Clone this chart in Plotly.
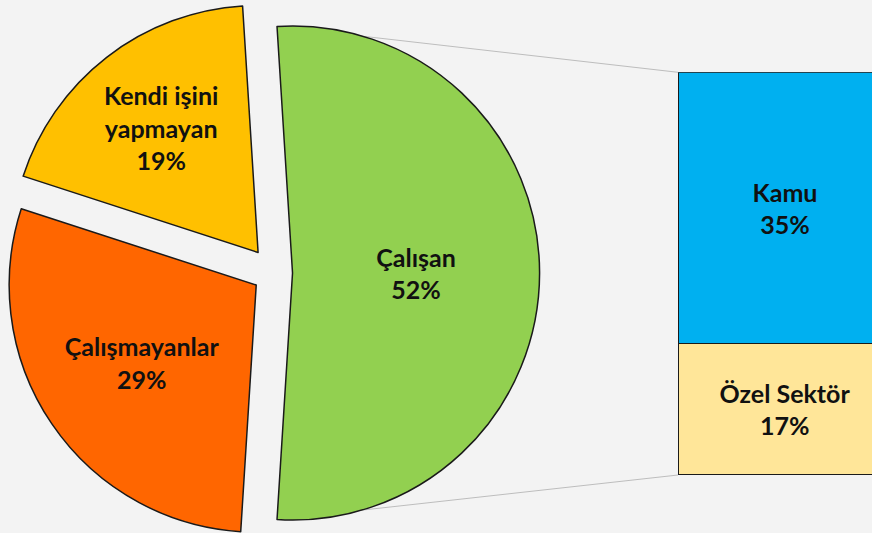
import math
import plotly.graph_objects as go

# ---- data ----
pie_labels = ["Çalışan", "Kendi işini<br>yapmayan", "Çalışmayanlar"]
pie_values = [52, 19, 29]
pie_colors = ["#92D050", "#FFC000", "#FF6600"]
pie_pull = [0.075, 0.105, 0.087]

bar_labels = ["Özel Sektör", "Kamu"]
bar_values = [17, 35]
bar_colors = ["#FFE699", "#00B0F0"]

W = 872
H = 546          # figure is a little taller than the 533px window; the bottom strip falls outside
BG = "#F3F3F3"
FONT = "Lato"
FS = 25

# ---- layout geometry ----
pie_dom_x = [0.0, 548 / W]
pie_dom_y = [0.0, 1.0]
bar_dom_x = [678 / W, 1.0]
bar_dom_y = [1 - 475 / H, 1 - 72.3 / H]
bar_px_width = 214.0  # pixel width of the full bar (it runs past the right edge)
vis_px = (bar_dom_x[1] - bar_dom_x[0]) * W
x_range = [-0.5, -0.5 + vis_px / bar_px_width]

total = sum(pie_values)
bar_total = sum(bar_values)
rotation = 90 - 360 * pie_values[0] / total / 2

fig = go.Figure()

fig.add_trace(go.Pie(
    labels=pie_labels,
    values=pie_values,
    sort=False,
    direction="counterclockwise",
    rotation=rotation,
    pull=pie_pull,
    marker=dict(colors=pie_colors, line=dict(color="#1a1a1a", width=1.5)),
    texttemplate="<b>%{label}<br>%{value}%</b>",
    textposition="inside",
    insidetextorientation="horizontal",
    textfont=dict(family=FONT, size=FS, color="#111"),
    domain=dict(x=pie_dom_x, y=pie_dom_y),
    showlegend=False,
    hoverinfo="label+value",
))

for lab, val, col in zip(bar_labels, bar_values, bar_colors):
    fig.add_trace(go.Bar(
        x=[0], y=[val], width=1,
        marker=dict(color=col, line=dict(color="#1a1a1a", width=1.5)),
        text=[f"<b>{lab}<br>{val}%</b>"],
        textposition="inside", insidetextanchor="middle", textangle=0,
        textfont=dict(family=FONT, size=FS, color="#111"),
        showlegend=False, name=lab,
        xaxis="x", yaxis="y",
    ))

# connector lines from the pulled "Çalışan" slice to the bar corners
r = min((pie_dom_x[1] - pie_dom_x[0]) * W, (pie_dom_y[1] - pie_dom_y[0]) * H) / (2 + 2 * max(pie_pull))
cx = W * (pie_dom_x[0] + pie_dom_x[1]) / 2
cy = H * (1 - (pie_dom_y[0] + pie_dom_y[1]) / 2)
half = math.radians(360 * pie_values[0] / total / 2)
gx = cx + pie_pull[0] * r
pts_top = (gx + r * math.cos(half), cy - r * math.sin(half))
pts_bot = (gx + r * math.cos(half), cy + r * math.sin(half))
for (px, py), yb in ((pts_top, bar_dom_y[1]), (pts_bot, bar_dom_y[0])):
    fig.add_shape(type="line", xref="paper", yref="paper", layer="below",
                  x0=px / W, y0=1 - py / H, x1=bar_dom_x[0], y1=yb,
                  line=dict(color="#BDBDBD", width=1))

fig.update_layout(
    width=W, height=H,
    margin=dict(l=0, r=0, t=0, b=0),
    paper_bgcolor=BG, plot_bgcolor=BG,
    barmode="stack",
    xaxis=dict(domain=bar_dom_x, range=x_range, visible=False, fixedrange=True),
    yaxis=dict(domain=bar_dom_y, range=[0, bar_total], visible=False, fixedrange=True),
    font=dict(family=FONT),
)

fig.write_html(
    "out.html",
    config={"displayModeBar": False},
    post_script="document.body.style.margin='0px';document.body.style.overflow='hidden';"
                "document.documentElement.style.background='" + BG + "';",
)
